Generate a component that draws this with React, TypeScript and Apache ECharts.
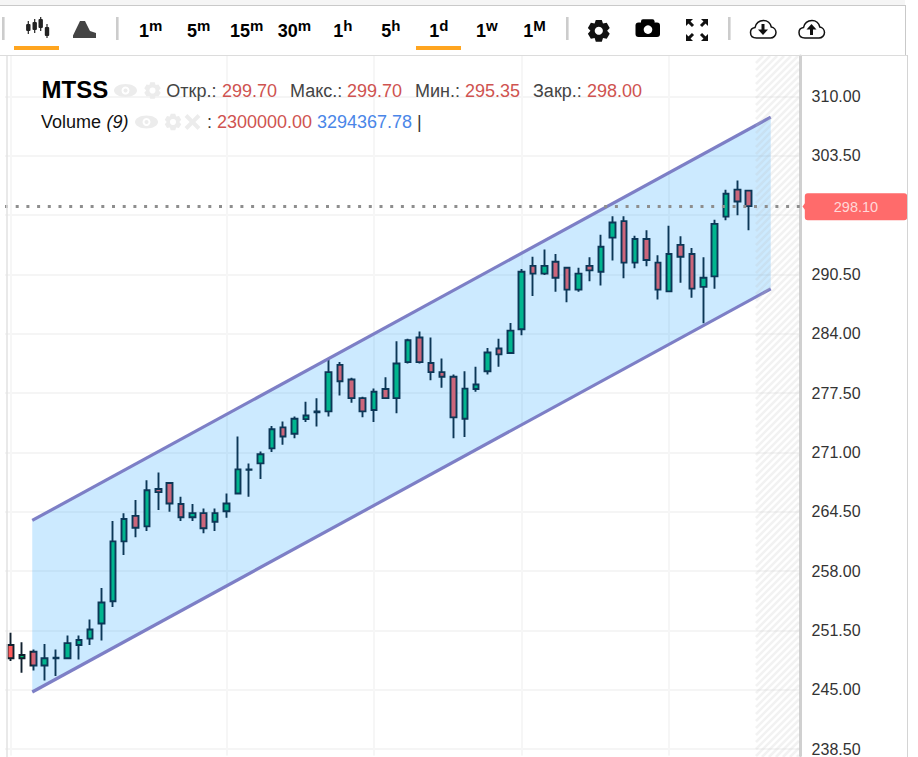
import { useEffect, useRef } from 'react';
import * as echarts from 'echarts';

// open, close, low, high
const candles: number[][] = [
  [249.9, 248.45, 248.15, 251.25], [248.45, 248.8, 246.85, 250.2], [249.15, 247.65, 247.1, 249.4],
  [247.65, 248.45, 246, 250], [248.45, 248.5, 246.5, 249.4], [248.45, 250.1, 248.45, 250.95],
  [249.9, 250.45, 248.3, 250.95], [250.6, 251.6, 249.9, 252.7], [252.25, 254.55, 250.4, 256.15],
  [254.7, 261.25, 254.05, 263.5], [261.25, 263.7, 259.75, 264.35], [264.05, 262.75, 261.7, 265.8],
  [262.9, 266.85, 262.4, 267.95], [267, 266.65, 264.7, 268.8], [267.65, 265.4, 264.5, 267.65],
  [265.35, 263.9, 263.5, 266.15], [263.9, 264.35, 263.5, 265.35], [264.35, 262.7, 262.15, 264.85],
  [263.4, 264.35, 262.4, 264.85], [264.55, 265.4, 263.85, 266.5], [266.5, 269.15, 266.5, 272.75],
  [269.1, 269.15, 266.15, 269.8], [269.8, 270.8, 268.1, 271.1], [271.45, 273.55, 271.05, 273.9],
  [273.75, 272.75, 271.85, 274.4], [273.05, 274.7, 272.55, 274.95], [274.65, 275.05, 274.35, 276.55],
  [275.4, 275.5, 273.85, 276.95], [275.5, 279.8, 274.95, 281.3], [280.6, 278.8, 277.25, 280.9],
  [279, 276.95, 276.45, 279.2], [276.95, 275.5, 274.85, 277.1], [275.65, 277.65, 274.35, 278],
  [277.95, 276.95, 276.85, 279.25], [276.95, 280.75, 275.3, 283.2], [280.9, 283.3, 280.75, 283.45],
  [283.6, 280.9, 280.75, 284.25], [280.8, 279.8, 278.9, 283.6], [279.8, 279.3, 278.1, 281.3],
  [279.3, 274.85, 272.55, 279.55], [274.7, 278, 272.7, 279.9], [277.95, 278.45, 277.65, 280.4],
  [279.9, 281.95, 279.55, 282.45], [282.4, 281.75, 280.4, 283.45], [281.9, 284.35, 281.85, 285.2],
  [284.5, 290.8, 283.85, 291.1], [291.45, 290.6, 288.15, 292.45], [290.6, 291.45, 290.45, 293.25],
  [291.9, 290.15, 288.6, 292.75], [291.25, 288.85, 287.45, 291.25], [288.85, 290.6, 288.6, 291.25],
  [291.45, 290.95, 289.75, 292.4], [290.8, 293.55, 289.3, 294.85], [294.55, 296.2, 292.05, 296.9],
  [296.35, 291.8, 290.1, 296.9], [291.8, 294.4, 291.2, 294.75], [294.4, 292.1, 291.4, 295.35],
  [291.8, 288.85, 287.75, 292.6], [288.65, 292.75, 288.65, 295.85], [293.75, 292.45, 289.6, 294.7],
  [292.75, 288.95, 287.95, 293.4], [289.15, 290.15, 285.15, 292.4], [290.3, 296.05, 288.95, 296.5],
  [296.85, 299.35, 296.45, 299.8], [299.8, 298.5, 297, 300.8], [299.7, 298, 295.35, 299.7],
];
const slotCount = 70; // 66 candles + empty room on the right
const categories = Array.from({ length: slotCount }, (_, i) => String(i));
const priceTicks = [238.5, 245, 251.5, 258, 264.5, 271, 277.5, 284, 290.5, 297, 303.5, 310];
const shownTicks = priceTicks.filter((v) => v !== 297); // 297.00 sits under the price tag
const lastPriceLabel = '298.10';
const lastPriceLevel = 297.93;
// channel: left x, upper, lower, right x, upper, lower
const channel = [1.9, 263.55, 244.75, 66.94, 307.75, 288.93];
const intervals: Array<[string, string, number]> = [
  ['1', 'm', 139], ['5', 'm', 187], ['15', 'm', 230], ['30', 'm', 277.7], ['1', 'h', 333.3],
  ['5', 'h', 381.3], ['1', 'd', 429.3], ['1', 'w', 476], ['1', 'M', 523.3],
];

const FONT = '"Liberation Sans", Arial, sans-serif';
const RED = '#cf5350';
const FAINT = '#ececec';

echarts.graphic.registerShape(
  'cloud',
  echarts.graphic.extendPath(
    'M6 18 C2 18 0 15.5 0 12.5 C0 10 2 8 4.5 7.6 C5.5 3 9 0.5 13 0.5 C17 0.5 20 3.5 20.8 7 C23.5 7.5 25.5 10 25.5 12.5 C25.5 15.5 23 18 20 18 Z',
    {}
  )
);

function text(t: string, x: number, y: number, fill: string, fontSize: number, fontWeight = 'normal', fontStyle = 'normal'): any {
  return {
    type: 'text', z: 20, x, y,
    style: { text: t, fill, fontSize, fontWeight, fontStyle, fontFamily: FONT, verticalAlign: 'middle', align: 'left' },
  };
}

function gearPoints(cx: number, cy: number, r: number): number[][] {
  const pts: number[][] = [];
  for (let i = 0; i < 6; i++) {
    const a = (i * Math.PI) / 3 - Math.PI / 2;
    const s = 0.27;
    pts.push([cx + r * Math.cos(a - s), cy + r * Math.sin(a - s)]);
    pts.push([cx + r * Math.cos(a + s), cy + r * Math.sin(a + s)]);
    pts.push([cx + r * 0.74 * Math.cos(a + 0.52), cy + r * 0.74 * Math.sin(a + 0.52)]);
  }
  return pts;
}

function gear(cx: number, cy: number, r: number, fill: string): any[] {
  return [
    { type: 'polygon', z: 20, shape: { points: gearPoints(cx, cy, r) }, style: { fill } },
    { type: 'circle', z: 20, shape: { cx, cy, r: r * 0.36 }, style: { fill: '#fff' } },
  ];
}

function eye(cx: number, cy: number): any[] {
  return [
    { type: 'ellipse', z: 20, shape: { cx, cy, rx: 11.5, ry: 6.5 }, style: { fill: FAINT } },
    { type: 'circle', z: 20, shape: { cx, cy, r: 4 }, style: { fill: '#fff' } },
    { type: 'circle', z: 20, shape: { cx, cy, r: 2 }, style: { fill: FAINT } },
  ];
}

function line(x1: number, y1: number, x2: number, y2: number, stroke: string, lineWidth: number, z = 20): any {
  return { type: 'line', z, shape: { x1, y1, x2, y2 }, style: { stroke, lineWidth } };
}

function rect(x: number, y: number, width: number, height: number, fill: string, r = 0, z = 20): any {
  return { type: 'rect', z, shape: { x, y, width, height, r }, style: { fill } };
}

function poly(points: number[][], fill: string): any {
  return { type: 'polygon', z: 20, shape: { points }, style: { fill } };
}

function hatch(): any[] {
  const left = 756, right = 799, top = 56, bottom = 757, step = 7;
  const out: any[] = [];
  for (let c = left + top; c < right + bottom; c += step) {
    // lines x + y = c clipped to the strip
    const x1 = Math.max(left, c - bottom);
    const x2 = Math.min(right, c - top);
    if (x2 <= x1) continue;
    out.push(line(x1, c - x1, x2, c - x2, 'rgba(190,190,190,0.2)', 2.6, 5));
  }
  return out;
}

function toolbar(): any[] {
  const out: any[] = [
    rect(0, 0, 905, 5, '#f5f5f5'),
    line(0, 5.5, 905, 5.5, '#c9c9c9', 1),
    line(905.5, 5, 905.5, 55, '#c9c9c9', 1),
    line(0, 55.5, 908, 55.5, '#dcdcdc', 1),
    line(907.5, 55, 907.5, 757, '#d4d4d4', 1),
    line(7, 56, 7, 757, '#e2e2e2', 1.5),
    rect(2, 17, 2.6, 23, '#cccccc'),
    rect(116, 17, 2.6, 23, '#cccccc'),
    rect(566, 17, 2.6, 23, '#cccccc'),
    rect(728, 17, 2.6, 23, '#cccccc'),
    rect(14, 46, 45, 4, '#ffa51f'),
    rect(416, 46, 45, 4, '#ffa51f'),
  ];
  // candle icon
  const iconCandles = [[28.3, 21, 34, 24, 31], [34.7, 19, 33, 22, 30], [40.7, 17, 31, 19, 28], [47, 24, 38, 27, 36]];
  for (const [x, hi, lo, a, b] of iconCandles) {
    out.push(line(x, hi, x, lo, '#222', 1.2));
    out.push(rect(x - 2.2, a, 4.4, b - a, '#222', 1));
  }
  out.push(poly([[73, 38], [73, 35.5], [80, 21], [85, 21], [90, 31], [96, 33], [96, 38]], '#444444'));
  for (const [digit, sup, x] of intervals) {
    out.push(text(digit, x, 30.5, '#000', 18, 'bold'));
    out.push(text(sup, x + digit.length * 10, 25, '#000', 15, 'bold'));
  }
  out.push(...gear(598.8, 30.8, 11.3, '#111'));
  // camera
  out.push(rect(635.5, 22.5, 24.5, 14.5, '#000', 3));
  out.push(rect(641, 19.3, 13.5, 6, '#000', 2));
  out.push({ type: 'circle', z: 20, shape: { cx: 648, cy: 29.6, r: 4.3 }, style: { fill: '#fff' } });
  // fullscreen
  out.push(poly([[686, 19], [693, 19], [686, 26]], '#111'), line(688, 21, 693, 26, '#111', 3));
  out.push(poly([[708, 19], [701, 19], [708, 26]], '#111'), line(706, 21, 701, 26, '#111', 3));
  out.push(poly([[686, 41], [693, 41], [686, 34]], '#111'), line(688, 39, 693, 34, '#111', 3));
  out.push(poly([[708, 41], [701, 41], [708, 34]], '#111'), line(706, 39, 701, 34, '#111', 3));
  // clouds
  out.push({ type: 'cloud', z: 20, x: 750.5, y: 20, scaleX: 1, scaleY: 1, style: { fill: '#fff', stroke: '#111', lineWidth: 1.5 } });
  out.push(rect(761.5, 24, 3, 6, '#111'), poly([[758, 29.5], [768, 29.5], [763, 35]], '#111'));
  out.push({ type: 'cloud', z: 20, x: 799, y: 20, scaleX: 1, scaleY: 1, style: { fill: '#fff', stroke: '#111', lineWidth: 1.5 } });
  out.push(rect(810, 29, 3, 6, '#111'), poly([[806.5, 29.5], [816.5, 29.5], [811.5, 24]], '#111'));
  return out;
}

function legend(): any[] {
  return [
    text('MTSS', 41.5, 89, '#000', 24, 'bold'),
    ...eye(125.5, 90.5),
    ...gear(152.5, 90.5, 8.5, FAINT),
    text('Откр.:', 166.3, 91, '#444', 18),
    text('299.70', 222, 91, RED, 18),
    text('Макс.:', 290, 91, '#444', 18),
    text('299.70', 347, 91, RED, 18),
    text('Мин.:', 415, 91, '#444', 18),
    text('295.35', 465, 91, RED, 18),
    text('Закр.:', 533, 91, '#444', 18),
    text('298.00', 587, 91, RED, 18),
    text('Volume', 41, 122, '#111', 18),
    text('(9)', 106.5, 122, '#111', 18, 'normal', 'italic'),
    ...eye(146.5, 122),
    ...gear(173, 122, 8.5, FAINT),
    line(186, 115.5, 199, 128.5, FAINT, 4),
    line(199, 115.5, 186, 128.5, FAINT, 4),
    text(':', 207, 122, '#333', 18),
    text('2300000.00', 217, 122, RED, 18),
    text('3294367.78', 317, 122, '#4a86e8', 18),
    text('|', 417, 122, '#333', 18),
  ];
}

function buildOption(): any {
  return {
    animation: false,
    backgroundColor: '#fff',
    grid: { left: 5, top: 56, width: 794.8, height: 701, containLabel: false },
    xAxis: [
      {
        type: 'category',
        data: categories,
        axisLabel: { show: false },
        axisLine: { show: false },
        axisTick: { show: false, alignWithLabel: true },
        splitLine: {
          show: true,
          alignWithLabel: true,
          interval: (i: number) => i === 0 || (i > 6 && i % 13 === 6),
          lineStyle: { color: '#f6f6f6', width: 2 },
        },
      },
      { type: 'value', show: false, min: -0.5, max: slotCount - 0.5, splitLine: { show: false } },
    ],
    yAxis: {
      type: 'value',
      position: 'right',
      offset: 0.8,
      min: 237.78,
      max: 314.45,
      axisLine: { show: true, onZero: false, lineStyle: { color: '#d0d0d0', width: 3 } },
      axisTick: { show: false, customValues: priceTicks },
      axisLabel: {
        customValues: shownTicks,
        margin: 11,
        padding: [0, 0, 2, 0],
        color: '#333',
        fontSize: 16,
        fontFamily: FONT,
        formatter: (v: number) => v.toFixed(2),
      },
      splitLine: { show: true, lineStyle: { color: '#f5f5f5', width: 2 } },
    },
    series: [
      {
        type: 'candlestick',
        xAxisIndex: 0,
        yAxisIndex: 0,
        data: candles,
        barWidth: 6,
        clip: false,
        z: 3,
        itemStyle: {
          color: '#00bd72',
          color0: '#ff5b5b',
          borderColor: '#10202e',
          borderColor0: '#10202e',
          borderWidth: 1.9,
        },
        markLine: {
          silent: true,
          symbol: 'none',
          animation: false,
          data: [{ yAxis: lastPriceLevel }],
          lineStyle: { color: '#8e8e8e', type: [3, 7.7], width: 3 },
          label: {
            show: true,
            position: 'end',
            distance: 5,
            formatter: () => lastPriceLabel,
            backgroundColor: '#ff6b6b',
            borderRadius: 3,
            color: '#ffd8d8',
            fontSize: 14.5,
            fontFamily: FONT,
            padding: [6, 29, 6, 29],
          },
        },
      },
      {
        type: 'custom',
        xAxisIndex: 1,
        yAxisIndex: 0,
        silent: true,
        z: 4,
        data: [channel],
        encode: { x: [0, 3], y: [1, 2, 4, 5] },
        renderItem: (_: any, api: any) => {
          const ul = api.coord([api.value(0), api.value(1)]);
          const ll = api.coord([api.value(0), api.value(2)]);
          const ur = api.coord([api.value(3), api.value(4)]);
          const lr = api.coord([api.value(3), api.value(5)]);
          const stroke = { stroke: '#7d7fc6', lineWidth: 3.2 };
          return {
            type: 'group',
            children: [
              { type: 'polygon', shape: { points: [ul, ur, lr, ll] }, style: { fill: 'rgba(0,150,255,0.2)' } },
              { type: 'line', shape: { x1: ul[0], y1: ul[1], x2: ur[0], y2: ur[1] }, style: stroke },
              { type: 'line', shape: { x1: ll[0], y1: ll[1], x2: lr[0], y2: lr[1] }, style: stroke },
            ],
          };
        },
      },
    ],
    graphic: [
      ...hatch(),
      ...toolbar(),
      ...legend(),
      poly([[802.5, 206.5], [805.5, 202.5], [805.5, 210.5]], '#ff6b6b'),
    ],
  };
}

export default function App() {
  const ref = useRef<HTMLDivElement | null>(null);

  useEffect(() => {
    if (!ref.current) return;
    const chart = echarts.init(ref.current, null, { renderer: 'svg' });
    chart.setOption(buildOption());
    return () => chart.dispose();
  }, []);

  return <div ref={ref} style={{ position: 'absolute', left: 0, top: 0, width: 918, height: 757 }} />;
}
